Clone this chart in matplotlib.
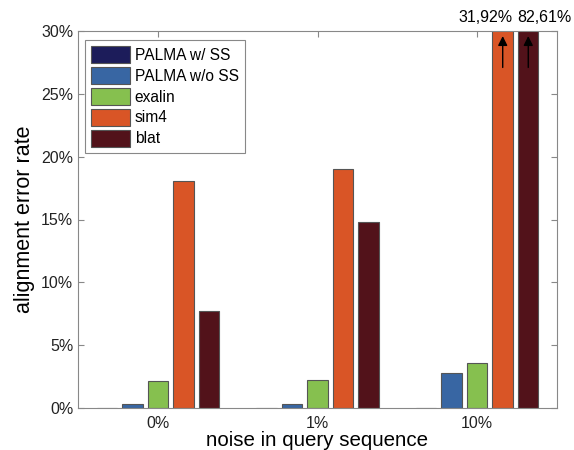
import matplotlib
matplotlib.use("Agg")
import matplotlib.pyplot as plt
import numpy as np
from matplotlib.ticker import FuncFormatter

plt.rcParams['font.family'] = ['Liberation Sans', 'DejaVu Sans']

categories = ['0%', '1%', '10%']
methods = ['PALMA w/ SS', 'PALMA w/o SS', 'exalin', 'sim4', 'blat']
palma_ss = [0.0, 0.0, 0.0]
palma_noss = [0.35, 0.35, 2.8]
exalin = [2.15, 2.2, 3.55]
sim4 = [18.05, 19.05, 31.92]
blat = [7.75, 14.8, 82.61]
colors = ['#1c1c5a', '#3866a3', '#86c04f', '#d95526', '#52121a']
overflow_labels = ['31,92%', '82,61%']

series = [palma_ss, palma_noss, exalin, sim4, blat]

fig = plt.figure(figsize=(5.74, 4.5), dpi=100)
ax = fig.add_axes([78/574, 1 - 408/450, (557-78)/574, (408-31)/450])

x = np.arange(1, len(categories) + 1)
step = 0.8 / len(methods)
width = step * 0.8
for i, (vals, c, lab) in enumerate(zip(series, colors, methods)):
    off = (i - (len(methods) - 1) / 2) * step
    ax.bar(x + off, vals, width=width, color=c, edgecolor='#555555',
           linewidth=0.8, label=lab, zorder=2)

ax.set_xlim(0.5, 3.5)
ax.set_ylim(0, 30)
ax.set_yticks(np.arange(0, 31, 5))
ax.yaxis.set_major_formatter(FuncFormatter(lambda v, p: f'{v:.0f}%'))
ax.set_xticks(x)
ax.set_xticklabels(categories)

# arrows and labels for clipped bars
for k, idx in enumerate([3, 4]):
    off = (idx - (len(methods) - 1) / 2) * step
    xc = x[2] + off
    ax.annotate('', xy=(xc, 29.6), xytext=(xc, 27.1),
                arrowprops=dict(arrowstyle='-|>', color='black', lw=1.0,
                                mutation_scale=14, shrinkA=0, shrinkB=0),
                zorder=3)
gap = x[2] + 0.24
ax.text(gap - 0.02, 30.5, overflow_labels[0], ha='right', va='bottom', fontsize=11.5)
ax.text(gap + 0.01, 30.5, overflow_labels[1], ha='left', va='bottom', fontsize=11.5)

for s in ax.spines.values():
    s.set_color('#888888')
    s.set_linewidth(0.8)
ax.tick_params(direction='in', top=True, right=True, length=4,
               color='#888888', labelsize=11.5, labelcolor='#222222')
ax.tick_params(axis='x', pad=6)

ax.set_ylabel('alignment error rate', fontsize=15.5, labelpad=4)
ax.set_xlabel('noise in query sequence', fontsize=14.8, labelpad=0)

leg = ax.legend(loc='upper left', bbox_to_anchor=(7/479, 1 - 9/377),
                fontsize=11.2, fancybox=False, framealpha=1,
                edgecolor='#888888', handlelength=2.5, handleheight=1.3,
                handletextpad=0.3, labelspacing=0.25, borderpad=0.4,
                borderaxespad=0)
leg.get_frame().set_linewidth(0.8)

fig.savefig('out.png', dpi=100)
